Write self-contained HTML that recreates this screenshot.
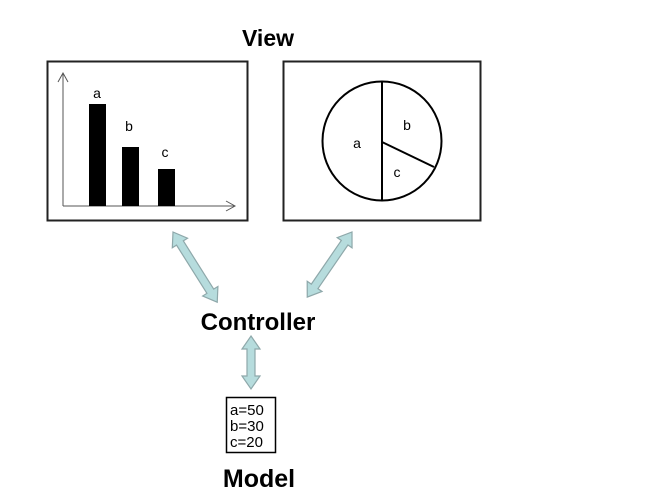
<!DOCTYPE html>
<html><head><style>
body{margin:0;background:#fff;}
svg{display:block;}
text{font-family:"Liberation Sans",Arial,sans-serif;}
</style></head><body>
<svg width="662" height="501" viewBox="0 0 662 501">
<text x="268" y="46" font-size="23" font-weight="bold" text-anchor="middle">View</text>
<rect x="47.5" y="61.5" width="200" height="159" fill="#fff" stroke="#222" stroke-width="2"/>
<rect x="283.5" y="61.5" width="197" height="159" fill="#fff" stroke="#222" stroke-width="2"/>
<g stroke="#555" stroke-width="1" fill="none">
<line x1="63" y1="73" x2="63" y2="206"/><polyline points="58,82 63,73 68,82"/>
<line x1="63" y1="206" x2="235" y2="206"/><polyline points="226,201 235,206 226,211"/>
</g>
<rect x="89" y="104" width="17" height="102" fill="#000"/>
<rect x="122" y="147" width="17" height="59" fill="#000"/>
<rect x="158" y="169" width="17" height="37" fill="#000"/>
<g font-size="14" text-anchor="middle">
<text x="97" y="98">a</text><text x="129" y="131">b</text><text x="165" y="157">c</text>
<text x="357" y="148">a</text><text x="407" y="130">b</text><text x="397" y="177">c</text>
</g>
<circle cx="382" cy="141" r="59.5" fill="none" stroke="#000" stroke-width="2"/>
<line x1="382" y1="81" x2="382" y2="201" stroke="#000" stroke-width="2"/>
<line x1="382" y1="142" x2="434" y2="167" stroke="#000" stroke-width="2"/>
<g fill="#b6dcdd" stroke="#8ea8aa" stroke-width="1.2">
<polygon points="0,0 13,-9 13,-4 70,-4 70,-9 83,0 70,9 70,4 13,4 13,9" transform="translate(173,232) rotate(57.8)"/>
<polygon points="0,0 13,-9 13,-4 66,-4 66,-9 79,0 66,9 66,4 13,4 13,9" transform="translate(352,232) rotate(124.5)"/>
<polygon points="0,0 13,-9 13,-4 40,-4 40,-9 53,0 40,9 40,4 13,4 13,9" transform="translate(251,336) rotate(90)"/>
</g>
<text x="258" y="330" font-size="24" font-weight="bold" text-anchor="middle">Controller</text>
<rect x="226.5" y="397.5" width="49" height="55" fill="#fff" stroke="#000" stroke-width="1.5"/>
<g font-size="15">
<text x="230" y="415">a=50</text><text x="230" y="431">b=30</text><text x="230" y="447">c=20</text>
</g>
<text x="259" y="487" font-size="25" font-weight="bold" text-anchor="middle">Model</text>
</svg>
</body></html>
